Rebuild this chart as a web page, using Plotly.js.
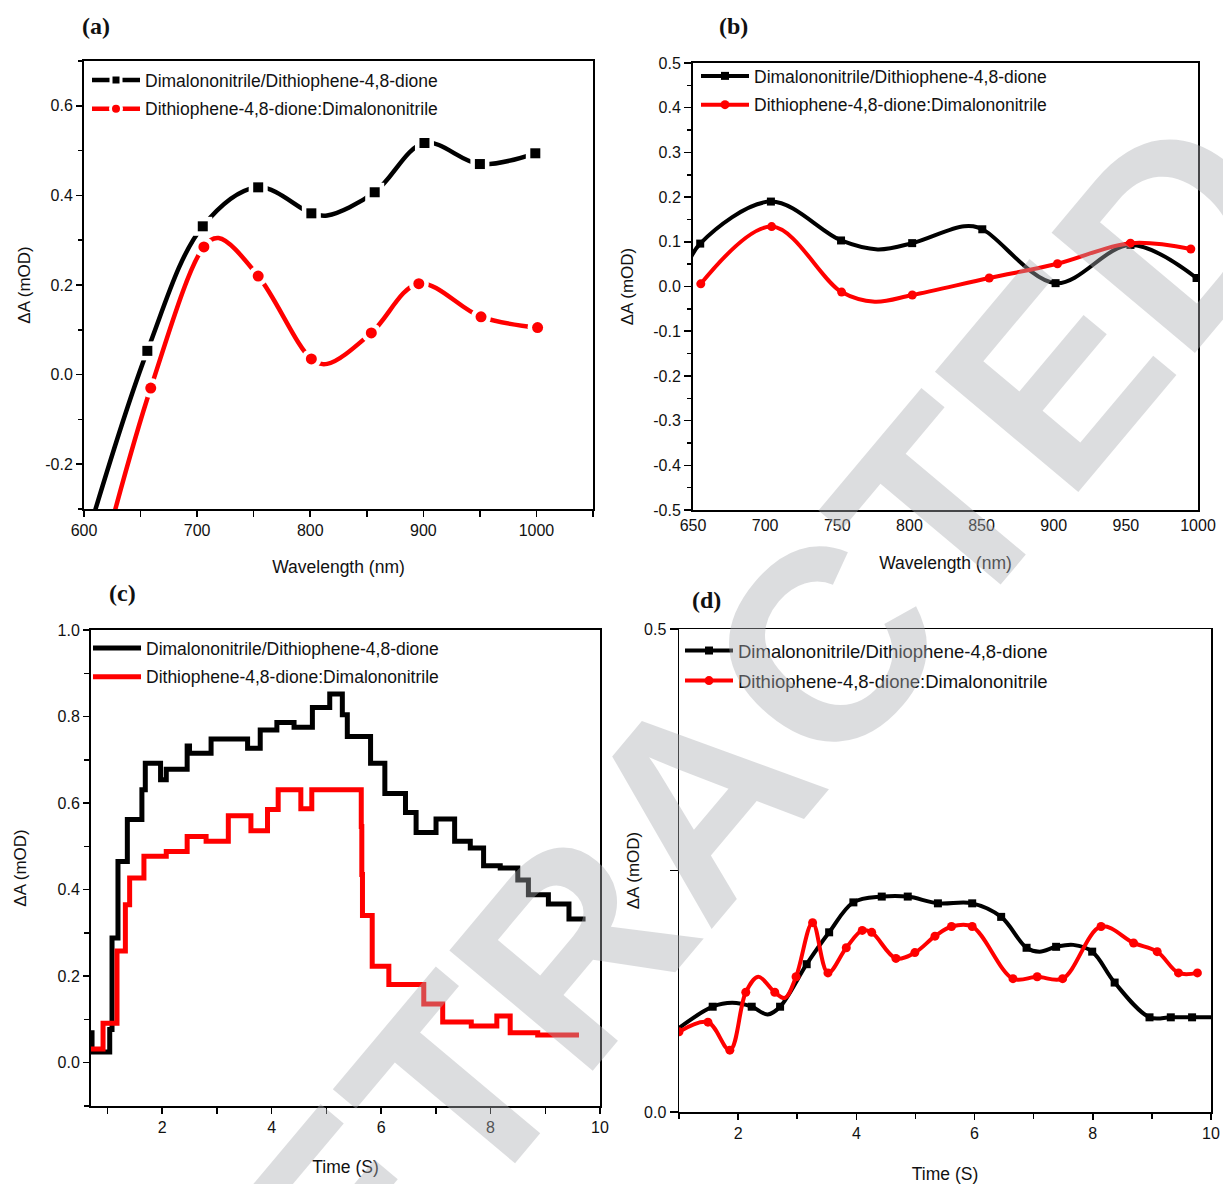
<!DOCTYPE html>
<html>
<head>
<meta charset="utf-8">
<script src="https://cdn.plot.ly/plotly-3.0.1.min.js"></script>
<style>html,body{margin:0;padding:0;background:#fff}</style>
</head>
<body>
<div id="chart" style="width:1223px;height:1184px"></div>
<script>
// ================= DATA =================
const seriesNames = ['Dimalononitrile/Dithiophene-4,8-dione', 'Dithiophene-4,8-dione:Dimalononitrile'];

// (a) wavelength (nm) vs ΔA (mOD) — symbol points
const aBlackWl = [656, 705, 754, 801, 857, 901, 950, 999];
const aBlackDA = [0.053, 0.331, 0.418, 0.360, 0.407, 0.517, 0.470, 0.494];
// extra points read on the smoothed curve (no symbol)
const aBlackCurveWl = [600, 815];
const aBlackCurveDA = [-0.386, 0.355];
const aRedWl = [659, 706, 754, 801, 854, 896, 951, 1001];
const aRedDA = [-0.030, 0.285, 0.220, 0.035, 0.093, 0.203, 0.129, 0.105];
const aRedCurveWl = [615, 719, 815];
const aRedCurveDA = [-0.42, 0.305, 0.024];

// (b)
const bBlackWl = [655, 704, 752.6, 801.9, 850.5, 901.3, 953.2, 999];
const bBlackDA = [0.096, 0.190, 0.103, 0.097, 0.128, 0.0075, 0.093, 0.019];
const bBlackCurveWl = [645, 778, 838];
const bBlackCurveDA = [0.038, 0.083, 0.135];
const bRedWl = [655.4, 704.5, 753, 802, 855.3, 902.6, 953.2, 995];
const bRedDA = [0.006, 0.134, -0.0125, -0.019, 0.019, 0.051, 0.097, 0.084];
const bRedCurveWl = [776];
const bRedCurveDA = [-0.034];

// (c) step traces: time (S) vs ΔA (mOD)
const cBlackT = [0.70, 0.719, 1.042, 1.084, 1.193, 1.364, 1.630, 1.692, 1.971, 2.075, 2.457, 2.50, 2.894, 3.561, 3.792, 4.096, 4.41, 4.745, 5.062, 5.292, 5.383, 5.808, 6.069, 6.446, 6.640, 7.004, 7.344, 7.630, 7.873, 8.177, 8.498, 8.692, 9.057, 9.433, 9.736];
const cBlackDA = [0.069, 0.025, 0.077, 0.288, 0.465, 0.562, 0.631, 0.692, 0.654, 0.678, 0.732, 0.715, 0.748, 0.727, 0.769, 0.786, 0.775, 0.821, 0.852, 0.804, 0.754, 0.692, 0.622, 0.578, 0.532, 0.563, 0.512, 0.496, 0.455, 0.450, 0.422, 0.388, 0.367, 0.332, 0.332];
const cRedT = [0.70, 0.920, 1.175, 1.328, 1.406, 1.667, 2.075, 2.457, 2.803, 3.209, 3.622, 3.925, 4.120, 4.534, 4.734, 5.638, 5.648, 5.660, 5.838, 6.142, 6.780, 7.126, 7.648, 8.115, 8.359, 8.862, 9.616];
const cRedDA = [0.032, 0.091, 0.258, 0.365, 0.427, 0.477, 0.488, 0.523, 0.512, 0.571, 0.536, 0.585, 0.631, 0.587, 0.631, 0.546, 0.435, 0.340, 0.223, 0.181, 0.136, 0.094, 0.085, 0.108, 0.069, 0.064, 0.064];

// (d)
const dBlackT = [1.57, 2.23, 2.71, 3.16, 3.54, 3.95, 4.43, 4.87, 5.38, 5.96, 6.45, 6.88, 7.38, 7.99, 8.37, 8.96, 9.32, 9.68];
const dBlackDA = [0.109, 0.109, 0.109, 0.153, 0.186, 0.217, 0.223, 0.223, 0.216, 0.216, 0.202, 0.170, 0.171, 0.166, 0.134, 0.098, 0.098, 0.098];
const dBlackCurveT = [1.0, 1.90, 2.50, 7.10, 7.67, 10.0];
const dBlackCurveDA = [0.087, 0.113, 0.101, 0.166, 0.173, 0.098];
const dRedT = [1.0, 1.49, 1.86, 2.13, 2.62, 2.98, 3.26, 3.52, 3.83, 4.10, 4.26, 4.67, 4.99, 5.33, 5.61, 5.96, 6.65, 7.06, 7.49, 8.14, 8.69, 9.09, 9.45, 9.77];
const dRedDA = [0.083, 0.093, 0.064, 0.124, 0.124, 0.140, 0.196, 0.144, 0.170, 0.188, 0.186, 0.159, 0.165, 0.182, 0.192, 0.192, 0.138, 0.140, 0.138, 0.192, 0.175, 0.166, 0.144, 0.144];
const dRedCurveT = [2.34, 2.79];
const dRedCurveDA = [0.140, 0.118];

// tick labels
const aXTicks = [600, 700, 800, 900, 1000];
const aYTicks = [-0.2, 0.0, 0.2, 0.4, 0.6];
const bXTicks = [650, 700, 750, 800, 850, 900, 950, 1000];
const bYTicks = [-0.5, -0.4, -0.3, -0.2, -0.1, 0.0, 0.1, 0.2, 0.3, 0.4, 0.5];
const cXTicks = [2, 4, 6, 8, 10];
const cYTicks = [0.0, 0.2, 0.4, 0.6, 0.8, 1.0];
const dXTicks = [2, 4, 6, 8, 10];
const dYTicks = [0.0, 0.25, 0.5];
const dYTickText = ['0.0', '', '0.5'];

const panelLabels = ['(a)', '(b)', '(c)', '(d)'];
const xTitles = ['Wavelength (nm)', 'Wavelength (nm)', 'Time (S)', 'Time (S)'];
const yTitle = 'ΔA (mOD)';
const watermark = 'RETRACTED';

// ================= BUILD =================
const BLACK = '#000000', RED = '#ff0000';
const FONT = 'Liberation Sans, Arial, sans-serif';
const traces = [];

function merged(x, y, cx, cy) {
  const pts = x.map((v, i) => [v, y[i]]).concat(cx.map((v, i) => [v, cy[i]]));
  pts.sort((p, q) => p[0] - q[0]);
  return {x: pts.map(p => p[0]), y: pts.map(p => p[1])};
}

function addSpline(xa, ya, leg, name, x, y, cx, cy, color, width, symbol, size, halo) {
  const m = merged(x, y, cx, cy);
  traces.push({type: 'scatter', mode: 'lines', x: m.x, y: m.y, xaxis: xa, yaxis: ya,
    line: {color: color, width: width, shape: 'spline', smoothing: 1}, showlegend: false, hoverinfo: 'skip'});
  if (halo) {
    traces.push({type: 'scatter', mode: 'markers', x: x, y: y, xaxis: xa, yaxis: ya,
      marker: {symbol: symbol, size: size + 9, color: '#ffffff'}, showlegend: false, hoverinfo: 'skip'});
  }
  traces.push({type: 'scatter', mode: 'markers', x: x, y: y, xaxis: xa, yaxis: ya,
    marker: {symbol: symbol, size: size, color: color}, showlegend: false});
  traces.push({type: 'scatter', mode: 'lines+markers', x: [null], y: [null], xaxis: xa, yaxis: ya,
    name: name, legend: leg, legendgroup: leg + name, line: {color: color, width: width},
    marker: {symbol: symbol, size: size, color: color, line: {color: '#ffffff', width: halo ? 3 : 0}}});
}

function addStep(xa, ya, leg, name, x, y, color, width) {
  traces.push({type: 'scatter', mode: 'lines', x: x, y: y, xaxis: xa, yaxis: ya, name: name, legend: leg,
    legendgroup: leg + name, line: {color: color, width: width, shape: 'hv'}});
}

addSpline('x', 'y', 'legend', seriesNames[0], aBlackWl, aBlackDA, aBlackCurveWl, aBlackCurveDA, BLACK, 4.5, 'square', 10, true);
addSpline('x', 'y', 'legend', seriesNames[1], aRedWl, aRedDA, aRedCurveWl, aRedCurveDA, RED, 4.5, 'circle', 11, true);
addSpline('x2', 'y2', 'legend2', seriesNames[0], bBlackWl, bBlackDA, bBlackCurveWl, bBlackCurveDA, BLACK, 4, 'square', 8, false);
addSpline('x2', 'y2', 'legend2', seriesNames[1], bRedWl, bRedDA, bRedCurveWl, bRedCurveDA, RED, 4, 'circle', 9, false);
addStep('x3', 'y3', 'legend3', seriesNames[0], cBlackT, cBlackDA, BLACK, 5);
addStep('x3', 'y3', 'legend3', seriesNames[1], cRedT, cRedDA, RED, 5);
addSpline('x4', 'y4', 'legend4', seriesNames[0], dBlackT, dBlackDA, dBlackCurveT, dBlackCurveDA, BLACK, 4, 'square', 8, false);
addSpline('x4', 'y4', 'legend4', seriesNames[1], dRedT, dRedDA, dRedCurveT, dRedCurveDA, RED, 4, 'circle', 9, false);

const W = 1223, H = 1184;
const px = v => v / W;
const py = v => 1 - v / H;

function axisBase(extra) {
  return Object.assign({
    showline: true, linecolor: '#000', linewidth: 2, mirror: true,
    showgrid: false, zeroline: false, ticks: 'outside', ticklen: 6, tickwidth: 1.5, tickcolor: '#000',
    tickfont: {family: FONT, size: 16, color: '#111'}, automargin: false
  }, extra);
}
const fmt = v => v.toFixed(1);
function legendAt(x, y, size) {
  return {x: px(x), y: py(y), xanchor: 'left', yanchor: 'top', bgcolor: 'rgba(0,0,0,0)', borderwidth: 0,
    font: {family: FONT, size: size, color: '#111'}, itemwidth: 48, tracegroupgap: 3};
}
function label(text, x, y) {
  return {text: '<b>' + text + '</b>', x: px(x), y: py(y), xref: 'paper', yref: 'paper', showarrow: false,
    xanchor: 'center', yanchor: 'middle',
    font: {family: 'Liberation Serif, Times New Roman, serif', size: 24, color: '#111'}};
}

const layout = {
  width: W, height: H,
  margin: {l: 0, r: 0, t: 0, b: 0},
  paper_bgcolor: '#fff', plot_bgcolor: '#fff',
  font: {family: FONT, color: '#111'},
  showlegend: true,
  xaxis: axisBase({domain: [px(84), px(593)], range: [600, 1050], anchor: 'y',
    tickmode: 'array', tickvals: aXTicks, ticktext: aXTicks.map(String),
    minor: {dtick: 50, tick0: 600, ticks: 'outside', ticklen: 6, tickwidth: 1.5, tickcolor: '#000'},
    title: {text: xTitles[0], font: {family: FONT, size: 17.5, color: '#111'}, standoff: 23}}),
  yaxis: axisBase({domain: [py(509), py(61)], range: [-0.3, 0.7], anchor: 'x',
    tickmode: 'array', tickvals: aYTicks, ticktext: aYTicks.map(fmt),
    minor: {dtick: 0.1, tick0: 0, ticks: 'outside', ticklen: 4, tickwidth: 1.5, tickcolor: '#000'},
    title: {text: yTitle, font: {family: FONT, size: 17, color: '#111'}, standoff: 10}}),
  xaxis2: axisBase({domain: [px(693), px(1198)], range: [650, 1000], anchor: 'y2', ticks: '',
    tickmode: 'array', tickvals: bXTicks, ticktext: bXTicks.map(String),
    title: {text: xTitles[1], font: {family: FONT, size: 17.5, color: '#111'}, standoff: 24}}),
  yaxis2: axisBase({domain: [py(510), py(63)], range: [-0.5, 0.5], anchor: 'x2', ticklen: 7,
    tickmode: 'array', tickvals: bYTicks, ticktext: bYTicks.map(fmt),
    minor: {dtick: 0.05, tick0: 0, ticks: 'outside', ticklen: 4, tickwidth: 1.5, tickcolor: '#000'},
    title: {text: yTitle, font: {family: FONT, size: 17, color: '#111'}, standoff: 15}}),
  xaxis3: axisBase({domain: [px(91), px(600)], range: [0.7, 10], anchor: 'y3',
    tickmode: 'array', tickvals: cXTicks, ticktext: cXTicks.map(String),
    minor: {dtick: 1, tick0: 0, ticks: 'outside', ticklen: 6, tickwidth: 1.5, tickcolor: '#000'},
    title: {text: xTitles[2], font: {family: FONT, size: 17.5, color: '#111'}, standoff: 26}}),
  yaxis3: axisBase({domain: [py(1106), py(630)], range: [-0.1, 1.0], anchor: 'x3',
    tickmode: 'array', tickvals: cYTicks, ticktext: cYTicks.map(fmt),
    minor: {dtick: 0.1, tick0: 0, ticks: 'outside', ticklen: 5, tickwidth: 1.5, tickcolor: '#000'},
    title: {text: yTitle, font: {family: FONT, size: 17, color: '#111'}, standoff: 27}}),
  xaxis4: axisBase({domain: [px(679), px(1211)], range: [1, 10], anchor: 'y4', linewidth: 1.5,
    tickmode: 'array', tickvals: dXTicks, ticktext: dXTicks.map(String),
    minor: {dtick: 1, tick0: 0, ticks: 'outside', ticklen: 5, tickwidth: 1.5, tickcolor: '#000'},
    title: {text: xTitles[3], font: {family: FONT, size: 17.5, color: '#111'}, standoff: 28}}),
  yaxis4: axisBase({domain: [py(1112), py(629)], range: [0, 0.5], anchor: 'x4', linewidth: 1.5, ticklen: 8,
    tickmode: 'array', tickvals: dYTicks, ticktext: dYTickText,
    title: {text: yTitle, font: {family: FONT, size: 17, color: '#111'}, standoff: 0}}),
  legend: legendAt(87, 62, 17.5),
  legend2: legendAt(696, 58, 17.5),
  legend3: legendAt(88, 630, 17.5),
  legend4: legendAt(680, 632, 18.5),
  annotations: [
    label(panelLabels[0], 96, 26),
    label(panelLabels[1], 733, 26),
    label(panelLabels[2], 122, 593),
    label(panelLabels[3], 706, 600),
    {text: '<b>' + watermark + '</b>', x: px(698), y: py(799), xref: 'paper', yref: 'paper', showarrow: false,
      xanchor: 'center', yanchor: 'middle', textangle: -50,
      font: {family: FONT, size: 272, color: 'rgba(170,172,178,0.41)'}}
  ]
};

Plotly.newPlot('chart', traces, layout, {staticPlot: true, displayModeBar: false});
</script>
</body>
</html>
